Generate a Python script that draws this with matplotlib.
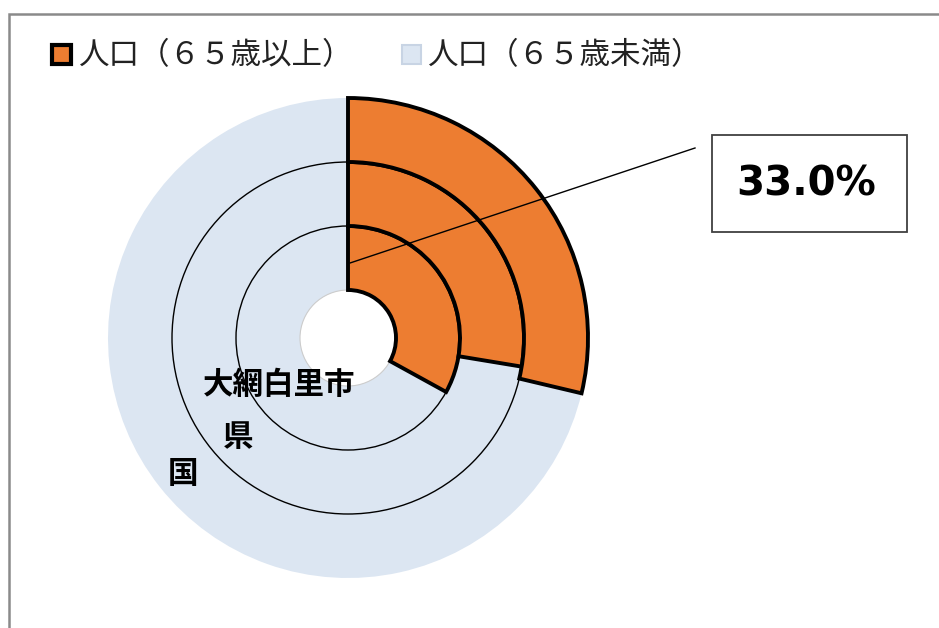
import matplotlib
matplotlib.use("Agg")
from matplotlib import pyplot as plt
from matplotlib.patches import Rectangle, Circle

plt.rcParams['font.family'] = ['Noto Sans CJK JP', 'DejaVu Sans']

# share of population aged 65+ (%), inner ring -> outer ring
regions = ["大網白里市", "県", "国"]
aged_share = [33.0, 27.6, 28.7]
legend_labels = ["人口（６５歳以上）", "人口（６５歳未満）"]

orange = "#ED7D31"
blue = "#DCE6F2"

W, H = 939, 628
fig = plt.figure(figsize=(W / 100, H / 100), dpi=100)
ax = fig.add_axes([0, 0, 1, 1])

cx, cy = 348, H - 338
hole = 48
ring_w = 64

for i, share in enumerate(aged_share):
    r_out = hole + ring_w * (i + 1)
    wedges, _ = ax.pie([share, 100 - share], radius=r_out, center=(cx, cy),
                       startangle=90, counterclock=False,
                       colors=[orange, blue],
                       wedgeprops=dict(width=ring_w))
    wedges[0].set_edgecolor("black")
    wedges[0].set_linewidth(2.8)
    wedges[0].set_zorder(5 + i)
    wedges[1].set_edgecolor("none")
    wedges[1].set_zorder(1)

# thin separators between rings
for r in (hole + ring_w, hole + 2 * ring_w):
    ax.add_patch(Circle((cx, cy), r, fill=False, edgecolor="black", lw=1.0, zorder=3))
ax.add_patch(Circle((cx, cy), hole, fill=False, edgecolor="#cccccc", lw=0.8, zorder=2))

ax.set_xlim(0, W)
ax.set_ylim(0, H)
ax.set_aspect("equal")
ax.axis("off")

# frame of chart area
ax.add_patch(Rectangle((9, -20), W + 40, H - 14 + 20, fill=False,
                       edgecolor="#8a8a8a", lw=1.8, zorder=0))

# legend
ax.add_patch(Rectangle((52, H - 64), 19, 19, facecolor=orange, edgecolor="black", lw=3, zorder=10))
ax.text(79, H - 56, legend_labels[0], fontsize=22, va="center", ha="left", color="#222222")
ax.add_patch(Rectangle((402, H - 64), 19, 19, facecolor=blue, edgecolor="#c8d4e4", lw=1.5, zorder=10))
ax.text(428, H - 56, legend_labels[1], fontsize=22, va="center", ha="left", color="#222222")

# region labels
ax.text(279, H - 385, regions[0], fontsize=22, fontweight="bold", ha="center", va="center", zorder=20)
ax.text(238, H - 437, regions[1], fontsize=22, fontweight="bold", ha="center", va="center", zorder=20)
ax.text(183, H - 474, regions[2], fontsize=22, fontweight="bold", ha="center", va="center", zorder=20)

# callout for the inner ring
ax.plot([cx + 2, 695], [cy + 75, H - 148], color="black", lw=1.0, zorder=15)
ax.add_patch(Rectangle((712, H - 232), 195, 97, facecolor="white",
                       edgecolor="#404040", lw=1.3, zorder=15))
ax.text(806, H - 185, f"{aged_share[0]:.1f}%", fontsize=29, fontweight="bold",
        family="DejaVu Sans", ha="center", va="center", zorder=16)

fig.savefig("out.png", dpi=100)
